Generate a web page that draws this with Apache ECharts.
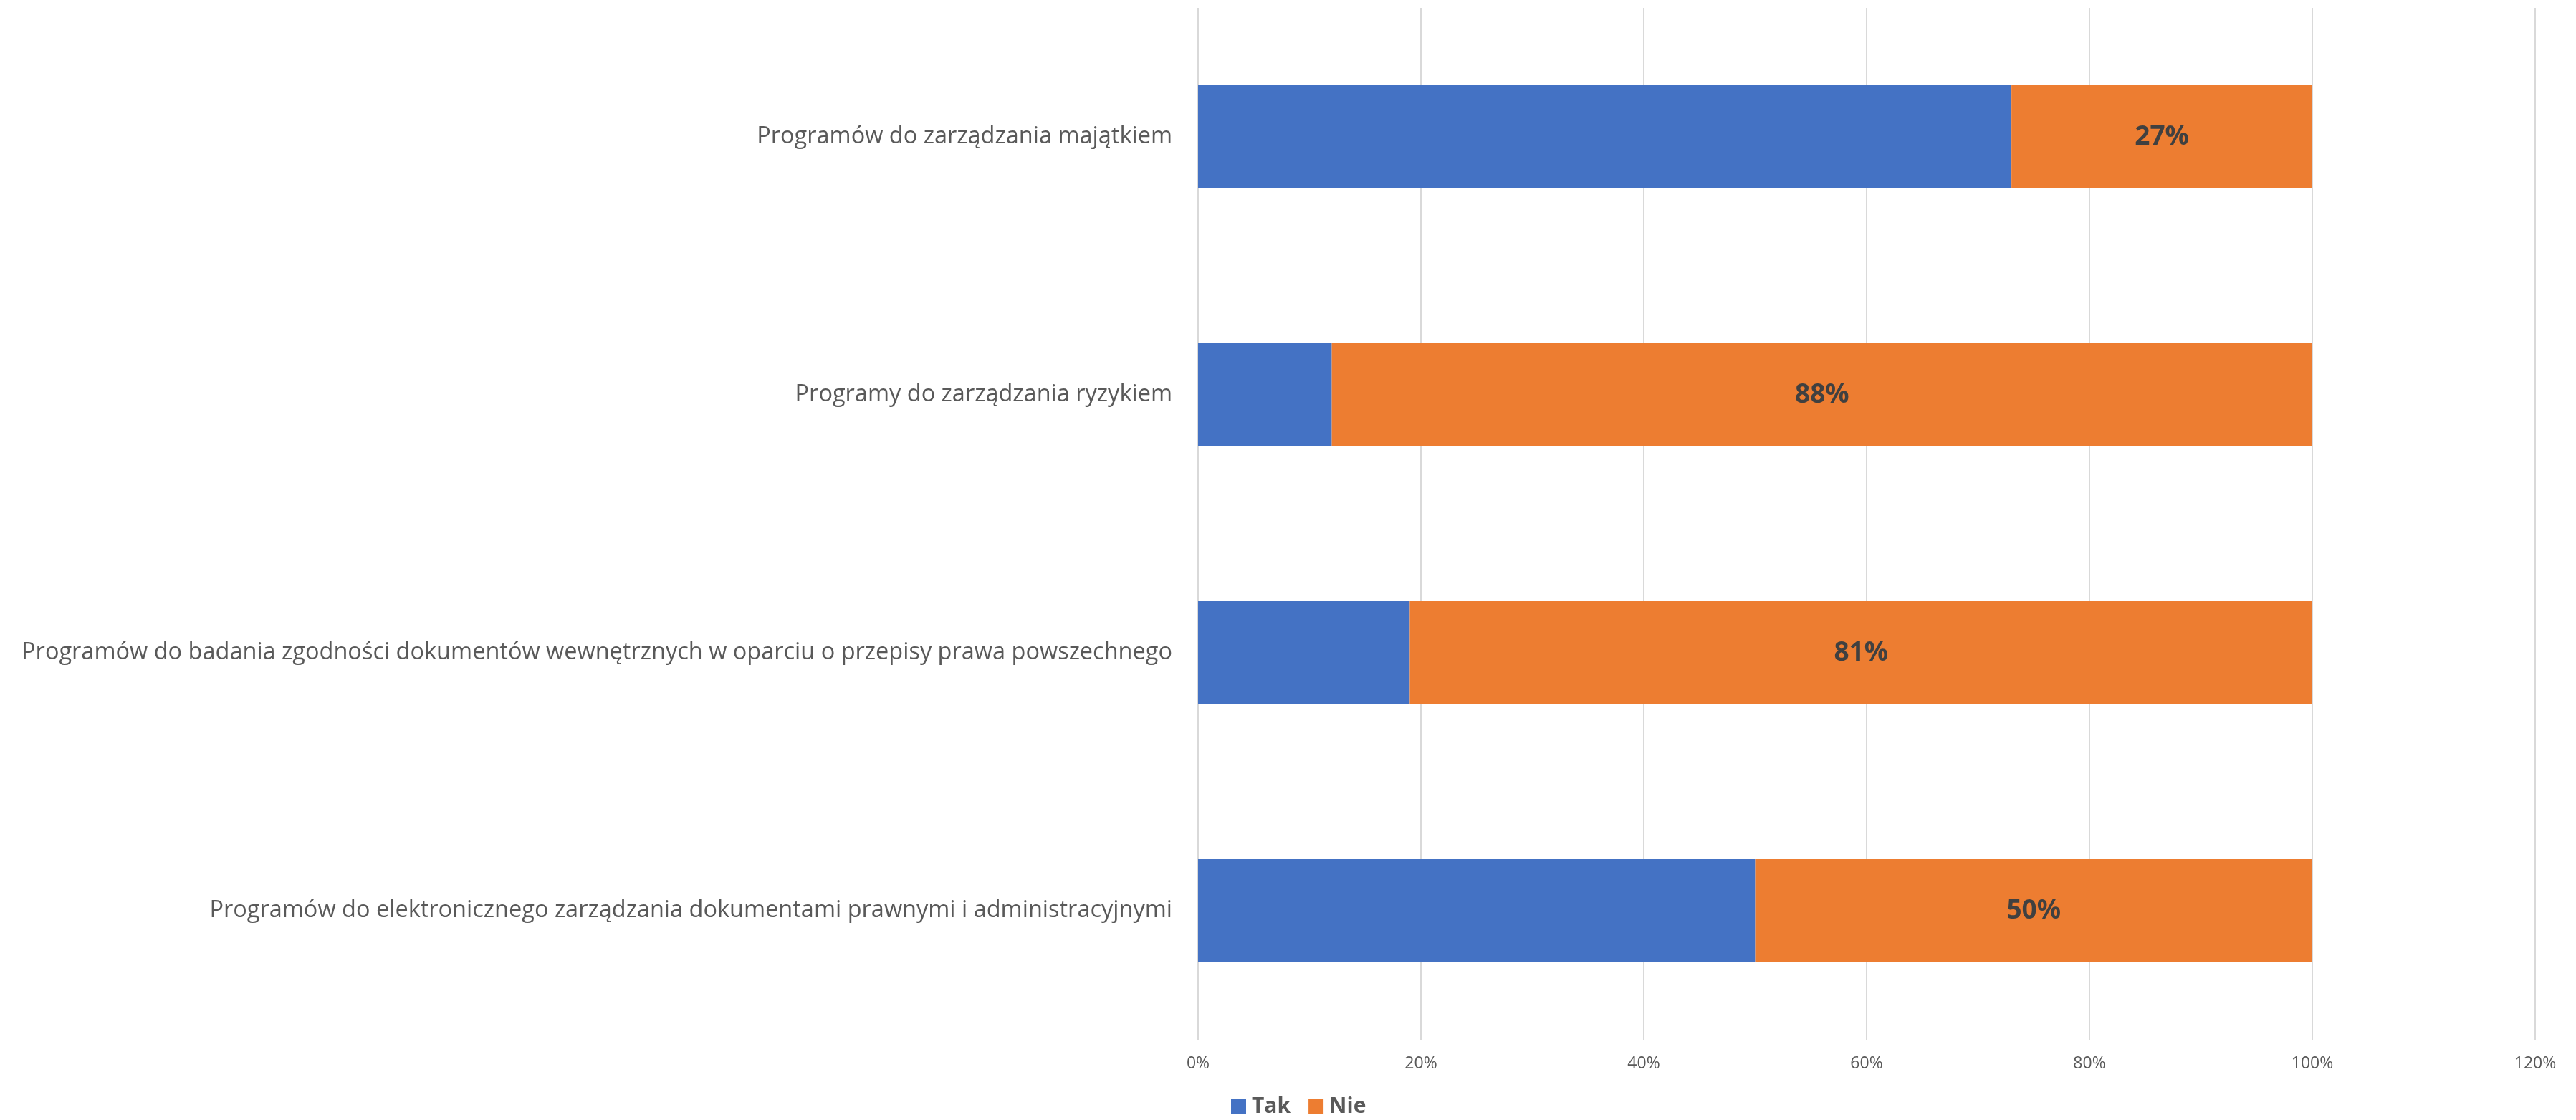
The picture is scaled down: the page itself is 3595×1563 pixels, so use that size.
<!DOCTYPE html>
<html>
<head>
<meta charset="utf-8">
<script src="https://cdn.jsdelivr.net/npm/echarts@6/dist/echarts.min.js"></script>
<style>
  html, body { margin: 0; padding: 0; background: #ffffff; }
  #chart { width: 3595px; height: 1563px; }
</style>
</head>
<body>
<div id="chart"></div>
<script>
// Survey categories, top to bottom
const categories = [
  'Programów do zarządzania majątkiem',
  'Programy do zarządzania ryzykiem',
  'Programów do badania zgodności dokumentów wewnętrznych w oparciu o przepisy prawa powszechnego',
  'Programów do elektronicznego zarządzania dokumentami prawnymi i administracyjnymi'
];
// Share of answers, in percent
const takValues = [73, 12, 19, 50];
const nieValues = [27, 88, 81, 50];
const seriesNames = ['Tak', 'Nie'];
const xTicks = [0, 20, 40, 60, 80, 100, 120];

const chart = echarts.init(document.getElementById('chart'));
const textFont = '"Open Sans", "Noto Sans", sans-serif';

chart.setOption({
  animation: false,
  backgroundColor: '#ffffff',
  grid: { left: 1672, right: 57, top: 11, height: 1440, containLabel: false },
  xAxis: {
    type: 'value',
    min: xTicks[0],
    max: xTicks[xTicks.length - 1],
    interval: 20,
    axisLine: { show: false },
    axisTick: { show: false },
    splitLine: { show: true, lineStyle: { color: '#d9d9d9', width: 2 } },
    axisLabel: {
      formatter: v => v + '%',
      color: '#595959',
      fontFamily: textFont,
      fontSize: 23,
      margin: 22
    }
  },
  yAxis: {
    type: 'category',
    inverse: true,
    data: categories,
    axisLine: { show: false },
    axisTick: { show: false },
    axisLabel: {
      color: '#595959',
      fontFamily: textFont,
      fontSize: 32.5,
      margin: 36
    }
  },
  legend: {
    data: seriesNames,
    left: 1713,
    top: 1524,
    itemWidth: 21,
    itemHeight: 21,
    itemGap: 25,
    icon: 'rect',
    textStyle: {
      color: '#595959',
      fontFamily: textFont,
      fontSize: 30,
      fontWeight: 'bold',
      padding: [0, 0, 0, 3]
    }
  },
  series: [
    {
      name: seriesNames[0],
      type: 'bar',
      stack: 'total',
      data: takValues,
      barCategoryGap: '60%',
      itemStyle: { color: '#4472C4' }
    },
    {
      name: seriesNames[1],
      type: 'bar',
      stack: 'total',
      data: nieValues,
      barCategoryGap: '60%',
      itemStyle: { color: '#ED7D31' },
      label: {
        show: true,
        position: 'inside',
        formatter: p => p.value + '%',
        color: '#404040',
        fontFamily: textFont,
        fontSize: 37,
        fontWeight: 'bold'
      }
    }
  ]
});
</script>
</body>
</html>
